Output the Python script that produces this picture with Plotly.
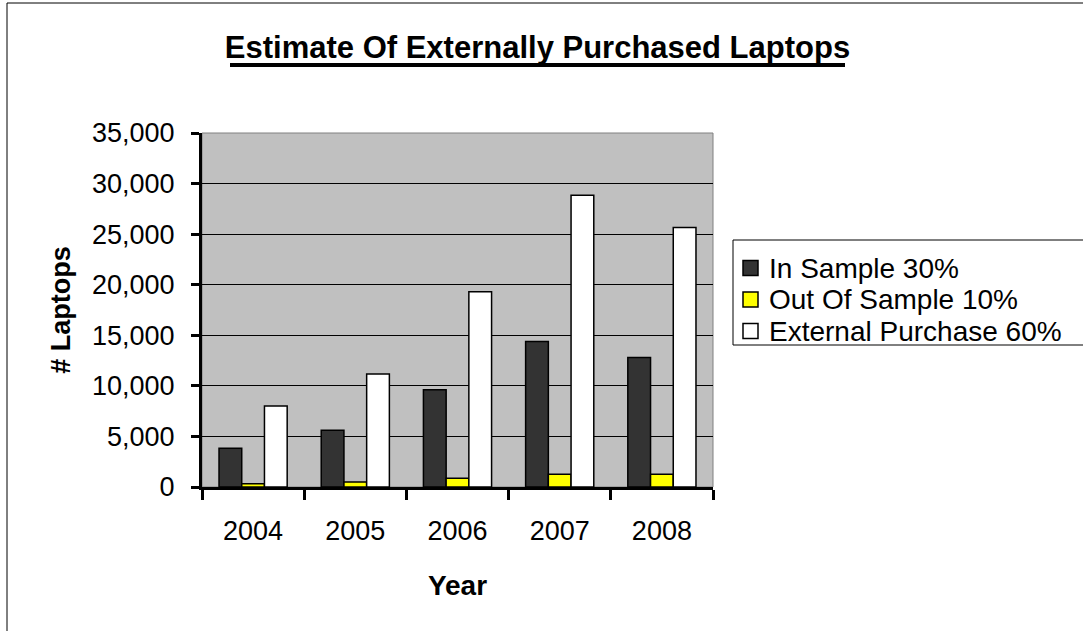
import plotly.graph_objects as go

years = ["2004", "2005", "2006", "2007", "2008"]
in_sample = [3840, 5620, 9620, 14380, 12800]
out_of_sample = [330, 500, 860, 1260, 1260]
external = [8000, 11180, 19310, 28840, 25660]

series_names = ["In Sample 30%", "Out Of Sample 10%", "External Purchase 60%"]
series_colors = ["#333333", "#FFFF00", "#FFFFFF"]
y_ticks = [0, 5000, 10000, 15000, 20000, 25000, 30000, 35000]

FONT = "Liberation Sans, Arial, sans-serif"

fig = go.Figure()
for name, vals, col in zip(series_names, [in_sample, out_of_sample, external], series_colors):
    fig.add_trace(go.Bar(
        x=years, y=vals, name=name, showlegend=False,
        marker=dict(color=col, line=dict(color="#000000", width=1.5)),
    ))

W, H = 1083, 631
L, R, T, B = 202, 370, 133, 144
pw, ph = W - L - R, H - T - B

def px_x(p):
    return (p - L) / pw

def px_y(p):
    return (H - B - p) / ph

shapes = [
    # plot-area frame on the top and right sides
    dict(type="rect", xref="paper", yref="paper", x0=0, x1=1, y0=0, y1=1,
         line=dict(color="#808080", width=1), layer="below"),
    # outer chart border
    dict(type="rect", xref="paper", yref="paper",
         x0=px_x(7), x1=px_x(1095), y0=px_y(640), y1=px_y(3),
         line=dict(color="#000000", width=1)),
    # title underline
    dict(type="line", xref="paper", yref="paper",
         x0=px_x(230), x1=px_x(845), y0=px_y(65), y1=px_y(65),
         line=dict(color="#000000", width=4)),
    # legend box
    dict(type="rect", xref="paper", yref="paper",
         x0=px_x(733), x1=px_x(1085), y0=px_y(345), y1=px_y(240),
         line=dict(color="#000000", width=1), fillcolor="#FFFFFF"),
]
annotations = []

# legend rows: swatch + label
row_y = [268, 299.5, 331]
for name, col, ry in zip(series_names, series_colors, row_y):
    shapes.append(dict(
        type="rect", xref="paper", yref="paper",
        x0=px_x(743), x1=px_x(758), y0=px_y(ry + 7.5), y1=px_y(ry - 7.5),
        line=dict(color="#000000", width=1.5), fillcolor=col,
    ))
    annotations.append(dict(
        text=name, xref="paper", yref="paper", x=px_x(767), y=px_y(ry),
        xanchor="left", yanchor="middle", showarrow=False,
        font=dict(family=FONT, size=28, color="#000000"),
    ))

fig.update_layout(
    width=W, height=H,
    margin=dict(l=L, r=R, t=T, b=B),
    paper_bgcolor="#FFFFFF",
    plot_bgcolor="#C0C0C0",
    barmode="group",
    bargap=0.333,
    bargroupgap=0,
    showlegend=False,
    font=dict(family=FONT, size=27, color="#000000"),
    title=dict(
        text="<b>Estimate Of Externally Purchased Laptops</b>",
        font=dict(family=FONT, size=31, color="#000000"),
        xref="container", x=537.5 / W, xanchor="center",
        yref="container", y=1 - 47 / H, yanchor="middle",
    ),
    xaxis=dict(
        showline=True, linecolor="#000000", linewidth=3,
        ticks="outside", tickson="boundaries", ticklen=10, tickwidth=3, tickcolor="#000000",
        ticklabelstandoff=18,
        showgrid=False, zeroline=False,
        title=dict(text="<b>Year</b>", font=dict(family=FONT, size=28), standoff=30),
    ),
    yaxis=dict(
        range=[0, 35000], tickvals=y_ticks, tickformat=",d",
        showline=True, linecolor="#000000", linewidth=3,
        ticks="outside", ticklen=8, tickwidth=3, tickcolor="#000000",
        ticklabelstandoff=11,
        showgrid=True, gridcolor="#000000", gridwidth=1,
        zeroline=False,
        title=dict(text="<b># Laptops</b>", font=dict(family=FONT, size=27), standoff=14),
    ),
    shapes=shapes,
    annotations=annotations,
)

fig.write_html("out.html")
